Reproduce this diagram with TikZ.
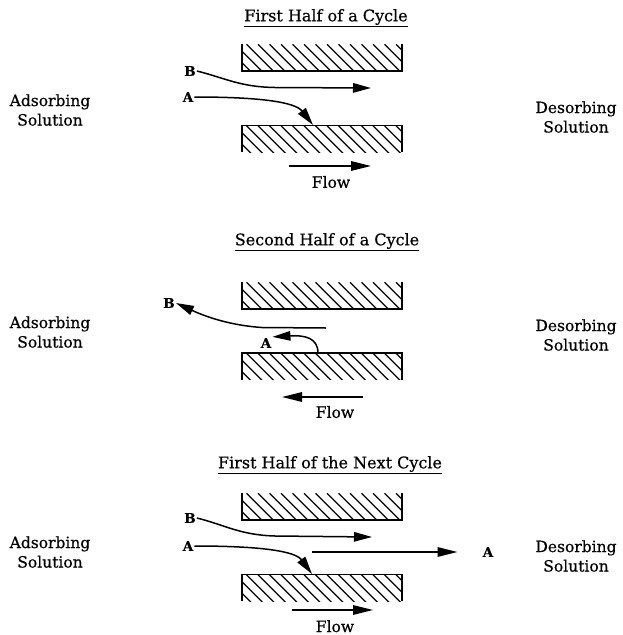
\documentclass[tikz,border=0pt]{standalone}
\usepackage{fontspec}
\setmainfont{DejaVu Serif}[FakeBold=0.5]
\usetikzlibrary{arrows.meta,calc}
\begin{document}
\begin{tikzpicture}[x=1pt,y=-1pt,
  lbl/.style={font=\fontsize{15.5}{19.5}\selectfont, align=center, inner sep=0pt},
  ttl/.style={font=\fontsize{16}{19}\selectfont, inner sep=0pt},
  letter/.style={font=\fontsize{13.5}{15}\selectfont\bfseries, inner sep=1pt},
  plate/.style={minimum width=160pt, minimum height=26.5pt, inner sep=0pt,
    path picture={\foreach \k in {0,...,18}{\draw[line width=1.2pt]
      ($(path picture bounding box.north west)+(\k*11.5-30,0)$) -- ++(40,40);}}},
  edge/.style={line width=1.8pt},
  curve/.style={line width=1.5pt, -{Triangle[length=18pt,width=9.5pt]}},
  flowarr/.style={line width=1.5pt, -{Triangle[length=20pt,width=9.5pt]}},
]
\useasboundingbox (0,0) rectangle (622,635);

% ---------- Panel 1 ----------
\node[ttl] (t1) at (326,18) {\underline{First Half of a Cycle}};
\node[plate] (p1t) at (322,57.5) {};
\node[plate] (p1b) at (322,139) {};
\draw[edge] (p1t.north west) -- (p1t.south west) -- (p1t.south east) -- (p1t.north east);
\draw[edge] (p1b.south west) -- (p1b.north west) -- (p1b.north east) -- (p1b.south east);
\node[lbl] (ads1) at (50,110) {Adsorbing\\Solution};
\node[lbl] (des1) at (576,117) {Desorbing\\Solution};
\node[letter] (B1) at (190,71) {B};
\node[letter] (A1) at (188,97) {A};
\coordinate (B1e) at (371,88);
\coordinate (A1e) at (313,125);
\draw[curve] (B1.east) .. controls (225,78) and (240,87) .. (275,87.5) -- (B1e);
\draw[curve] (A1.east) .. controls (260,97) and (295,102) .. (A1e);
\coordinate (f1s) at (289,166);
\coordinate (f1e) at (371,166);
\draw[flowarr] (f1s) -- (f1e);
\node[lbl] (fl1) at (331,182) {Flow};

% ---------- Panel 2 ----------
\node[ttl] (t2) at (327,242) {\underline{Second Half of a Cycle}};
\node[plate] (p2t) at (322,295.5) {};
\node[plate] (p2b) at (322,366.5) {};
\draw[edge] (p2t.north west) -- (p2t.south west) -- (p2t.south east) -- (p2t.north east);
\draw[edge] (p2b.south west) -- (p2b.north west) -- (p2b.north east) -- (p2b.south east);
\node[lbl] (ads2) at (50,332) {Adsorbing\\Solution};
\node[lbl] (des2) at (576,335) {Desorbing\\Solution};
\node[letter] (B2) at (169,303) {B};
\node[letter] (A2) at (266,343) {A};
\coordinate (B2s) at (326,328);
\coordinate (A2s) at (318,353);
\draw[curve] (B2s) -- (262,327.5) .. controls (225,325) and (200,314) .. (B2.east);
\draw[curve] (A2s) .. controls (318,338) and (305,335) .. (A2.north east);
\coordinate (f2s) at (363,397);
\coordinate (f2e) at (282,397);
\draw[flowarr] (f2s) -- (f2e);
\node[lbl] (fl2) at (335,412) {Flow};

% ---------- Panel 3 ----------
\node[ttl] (t3) at (330,465) {\underline{First Half of the Next Cycle}};
\node[plate] (p3t) at (322,506.5) {};
\node[plate] (p3b) at (322,588) {};
\draw[edge] (p3t.north west) -- (p3t.south west) -- (p3t.south east) -- (p3t.north east);
\draw[edge] (p3b.south west) -- (p3b.north west) -- (p3b.north east) -- (p3b.south east);
\node[lbl] (ads3) at (50,552) {Adsorbing\\Solution};
\node[lbl] (des3) at (576,556) {Desorbing\\Solution};
\node[letter] (B3) at (190,518) {B};
\node[letter] (A3) at (188,546) {A};
\node[letter] (A3r) at (488,552) {A};
\coordinate (B3e) at (372,537);
\coordinate (A3e) at (312,574);
\coordinate (A3s) at (312,552);
\draw[curve] (B3.east) .. controls (225,525) and (240,535) .. (275,536) -- (B3e);
\draw[curve] (A3.east) .. controls (260,546) and (295,551) .. (A3e);
\draw[flowarr] (A3s) -- ($(A3r.west)+(-24,0)$) coordinate (A3t);
\coordinate (f3s) at (292,610);
\coordinate (f3e) at (373,610);
\draw[flowarr] (f3s) -- (f3e);
\node[lbl, anchor=base] (fl3) at (335,632) {Flow};
\end{tikzpicture}
\end{document}
